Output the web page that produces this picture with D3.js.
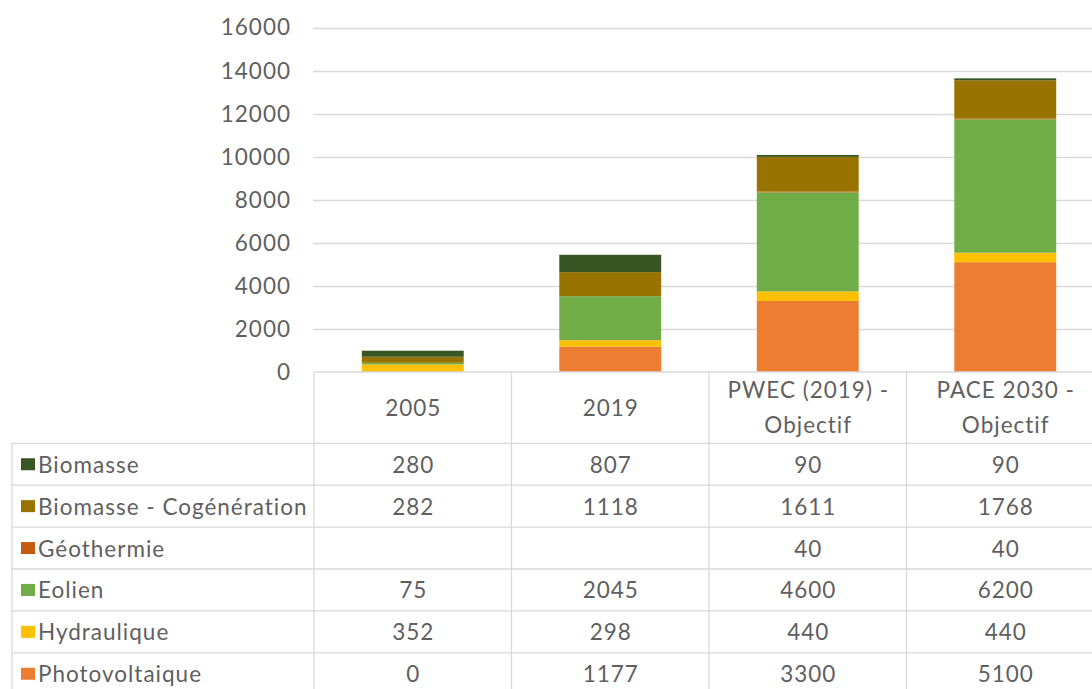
<!DOCTYPE html>
<html><head><meta charset="utf-8">
<script src="https://cdn.jsdelivr.net/npm/d3@7"></script>
<style>body{margin:0;background:#fff}svg{display:block}text{font-family:Lato,"Liberation Sans",sans-serif;fill:#5f5f5f;letter-spacing:1px}</style>
</head><body><svg id="c" width="1092" height="689"></svg>
<script>
const categories = ["2005", "2019", "PWEC (2019) - Objectif", "PACE 2030 - Objectif"];
const categoryLines = [["2005"], ["2019"], ["PWEC (2019) -", "Objectif"], ["PACE 2030 -", "Objectif"]];
const seriesNames = ["Photovoltaique", "Hydraulique", "Eolien", "Géothermie", "Biomasse - Cogénération", "Biomasse"];
const seriesColors = ["#ed7d31", "#ffc000", "#70ad47", "#c55a11", "#997300", "#375623"];
const photovoltaique = [0, 1177, 3300, 5100];
const hydraulique = [352, 298, 440, 440];
const eolien = [75, 2045, 4600, 6200];
const geothermie = [null, null, 40, 40];
const cogeneration = [282, 1118, 1611, 1768];
const biomasse = [280, 807, 90, 90];
const yTicks = [0, 2000, 4000, 6000, 8000, 10000, 12000, 14000, 16000];

const seriesValues = [photovoltaique, hydraulique, eolien, geothermie, cogeneration, biomasse];
const rows = categories.map((c, i) => {
  const o = {cat: c};
  seriesNames.forEach((s, j) => o[s] = seriesValues[j][i] || 0);
  return o;
});

const svg = d3.select("#c");
const FS = 22.5;
const x = d3.scaleBand().domain(categories).range([314, 314 + 4 * 197.5]).padding(0);
const y = d3.scaleLinear().domain([0, 16000]).range([372, 27.5]);
const barW = x.bandwidth() * 0.516;

// gridlines
svg.append("g").selectAll("line").data(yTicks.filter(t => t > 0)).join("line")
  .attr("x1", 313).attr("x2", 1104).attr("y1", d => Math.round(y(d)) + 0.5).attr("y2", d => Math.round(y(d)) + 0.5)
  .attr("stroke", "#d9d9d9").attr("stroke-width", 1.3);

// y axis labels
const yAxis = d3.axisLeft(y).tickValues(yTicks).tickSize(0).tickPadding(0).tickFormat(d3.format("d"));
const ya = svg.append("g").attr("transform", "translate(291,0)").call(yAxis);
ya.select(".domain").remove();
ya.selectAll("text").attr("font-size", FS).attr("fill", "#5f5f5f").attr("dy", "0.33em").style("font-family", "Lato, 'Liberation Sans', sans-serif");

// bars
const stack = d3.stack().keys(seriesNames)(rows);
svg.append("g").selectAll("g").data(stack).join("g")
  .attr("fill", (d, i) => seriesColors[i])
  .selectAll("rect").data(d => d).join("rect")
  .attr("x", d => x(d.data.cat) + (x.bandwidth() - barW) / 2)
  .attr("width", barW)
  .attr("y", d => y(d[1]))
  .attr("height", d => y(d[0]) - y(d[1]));

// table
const tableRows = seriesNames.slice().reverse();
const rowScale = d3.scaleBand().domain(tableRows).range([443.3, 443.3 + 6 * 41.9]);
const grid = svg.append("g").attr("stroke", "#d9d9d9").attr("stroke-width", 1.3);
grid.append("line").attr("x1", 314).attr("x2", 1104).attr("y1", 372).attr("y2", 372);
tableRows.forEach(r => {
  const yy = rowScale(r);
  grid.append("line").attr("x1", 12).attr("x2", 1104).attr("y1", yy).attr("y2", yy);
});
grid.append("line").attr("x1", 12).attr("x2", 1104).attr("y1", rowScale.range()[1]).attr("y2", rowScale.range()[1]);
categories.forEach(c => {
  grid.append("line").attr("x1", x(c)).attr("x2", x(c)).attr("y1", 372).attr("y2", 700);
});
grid.append("line").attr("x1", 12).attr("x2", 12).attr("y1", 443.3).attr("y2", 700);

// header labels
categories.forEach((c, i) => {
  const lines = categoryLines[i];
  const cx = x(c) + x.bandwidth() / 2 + 0.5;
  const t = svg.append("text").attr("text-anchor", "middle").attr("font-size", FS);
  if (lines.length === 1) {
    t.append("tspan").attr("x", cx).attr("y", 407.5).attr("dominant-baseline", "central").text(lines[0]);
  } else {
    t.append("tspan").attr("x", cx).attr("y", 389).attr("dominant-baseline", "central").text(lines[0]);
    t.append("tspan").attr("x", cx).attr("y", 424).attr("dominant-baseline", "central").text(lines[1]);
  }
});

// row labels + swatches + values
tableRows.forEach(r => {
  const si = seriesNames.indexOf(r);
  const cy = rowScale(r) + rowScale.bandwidth() / 2;
  svg.append("rect").attr("x", 21).attr("y", cy - 6).attr("width", 14).attr("height", 12).attr("fill", seriesColors[si]);
  svg.append("text").attr("x", 38).attr("y", cy).attr("dominant-baseline", "central").attr("font-size", FS).text(r);
  categories.forEach((c, i) => {
    const v = seriesValues[si][i];
    if (v === null) return;
    svg.append("text").attr("x", x(c) + x.bandwidth() / 2 + 0.5).attr("y", cy).attr("text-anchor", "middle")
      .attr("dominant-baseline", "central").attr("font-size", FS).text(v);
  });
});
</script></body></html>
